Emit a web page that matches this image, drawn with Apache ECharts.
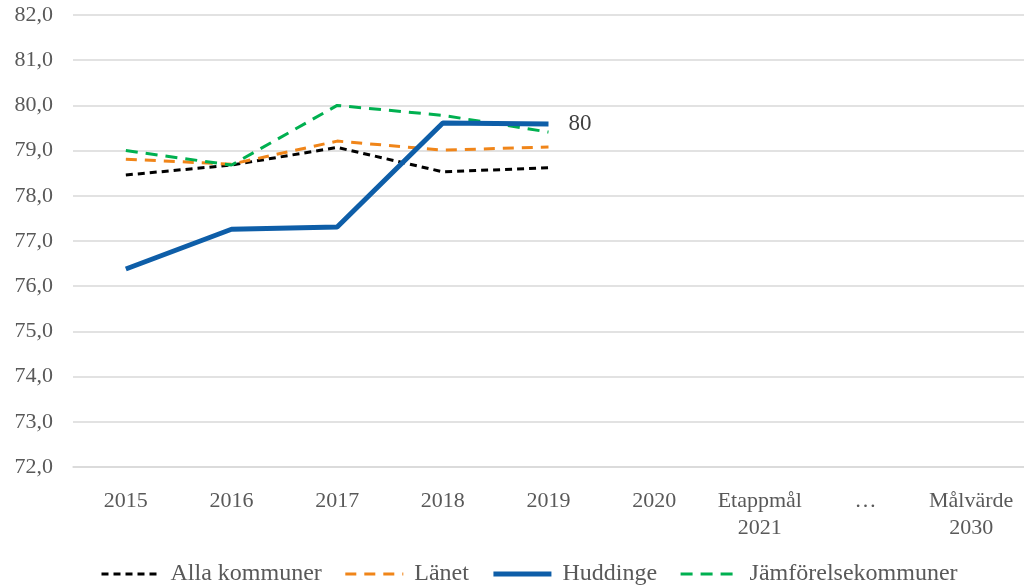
<!DOCTYPE html>
<html>
<head>
<meta charset="UTF-8">
<title></title>
<script src="https://cdn.jsdelivr.net/npm/echarts@6/dist/echarts.min.js"></script>
<style>
  html, body { margin: 0; padding: 0; background: #fff; }
  #main { width: 1024px; height: 586px; }
</style>
</head>
<body>
<div id="main"></div>
<script type="text/javascript">
var categories = ['2015', '2016', '2017', '2018', '2019', '2020', 'Etappmål\n2021', '…', 'Målvärde\n2030'];
var allaKommuner = [78.46, 78.68, 79.07, 78.53, 78.62];
var lanet = [78.81, 78.70, 79.21, 79.01, 79.08];
var huddinge = [76.38, 77.26, 77.31, 79.61, 79.59];
var jamforelse = [79.00, 78.68, 80.00, 79.78, 79.41];

var myChart = echarts.init(document.getElementById('main'));
var font = '"Liberation Serif", "Times New Roman", serif';
var option = {
	animation: false,
	textStyle: { fontFamily: font },
	grid: { left: 73, right: 0, top: 15, bottom: 119, containLabel: false },
	legend: {
		left: 95,
		bottom: -5,
		itemWidth: 58,
		itemHeight: 12,
		itemGap: 22,
		itemStyle: { opacity: 0 },
		lineStyle: { width: 'inherit' },
		textStyle: { fontFamily: font, fontSize: 24, color: '#595959', padding: [0, 0, 0, 6] },
		data: ['Alla kommuner', 'Länet', 'Huddinge', 'Jämförelsekommuner']
	},
	xAxis: {
		type: 'category',
		data: categories,
		boundaryGap: true,
		axisLine: { show: true, lineStyle: { color: '#d9d9d9', width: 1.5 } },
		axisTick: { show: false },
		axisLabel: { interval: 0, color: '#595959', fontSize: 22, lineHeight: 27, margin: 21, fontFamily: font }
	},
	yAxis: {
		type: 'value',
		min: 72,
		max: 82,
		interval: 1,
		axisLine: { show: false },
		axisTick: { show: false },
		axisLabel: {
			color: '#595959', fontSize: 22, margin: 20, fontFamily: font,
			formatter: function (v) { return v.toFixed(1).replace('.', ','); }
		},
		splitLine: { lineStyle: { color: '#d9d9d9', width: 1.5 } }
	},
	series: [
		{
			name: 'Alla kommuner', type: 'line', data: allaKommuner, symbol: 'none', z: 2,
			itemStyle: { color: '#000000' },
			lineStyle: { color: '#000000', width: 3, type: [7, 5] }
		},
		{
			name: 'Länet', type: 'line', data: lanet, symbol: 'none', z: 3,
			itemStyle: { color: '#F08519' },
			lineStyle: { color: '#F08519', width: 3, type: [11, 8] }
		},
		{
			name: 'Huddinge', type: 'line', data: huddinge, symbol: 'none', z: 5,
			itemStyle: { color: '#0E5EA8' },
			lineStyle: { color: '#0E5EA8', width: 5 },
			endLabel: {
				show: true, distance: 20, color: '#404040', fontSize: 23, fontFamily: font,
				formatter: function (p) { return Math.round(p.value); }
			}
		},
		{
			name: 'Jämförelsekommuner', type: 'line', data: jamforelse, symbol: 'none', z: 4,
			itemStyle: { color: '#00B050' },
			lineStyle: { color: '#00B050', width: 3, type: [12, 8] }
		}
	]
};
myChart.setOption(option);
</script>
</body>
</html>
